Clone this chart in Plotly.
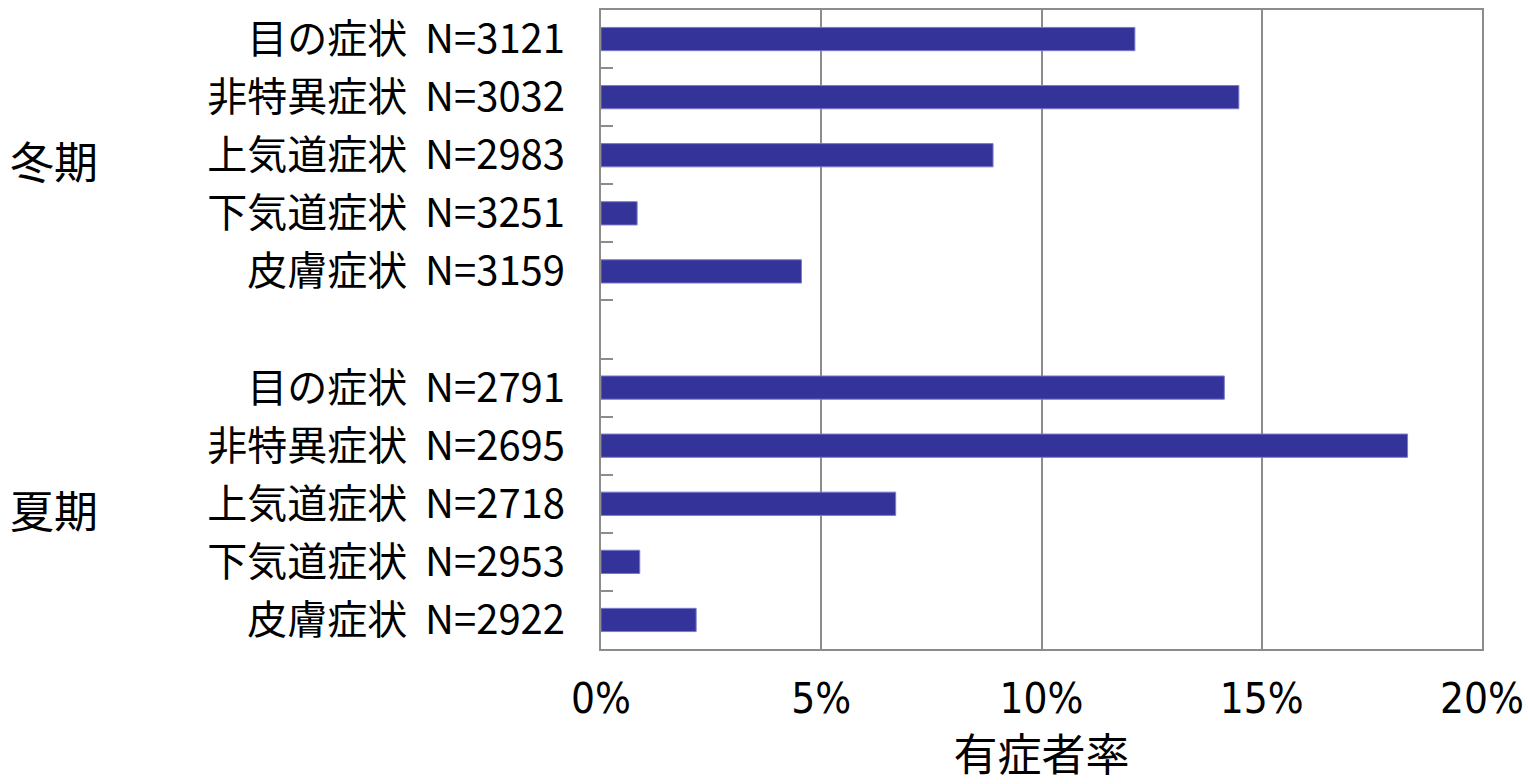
import plotly.graph_objects as go

symptoms = ["目の症状", "非特異症状", "上気道症状", "下気道症状", "皮膚症状"]
winter_n = [3121, 3032, 2983, 3251, 3159]
winter_rate = [12.12, 14.48, 8.90, 0.82, 4.55]
summer_n = [2791, 2695, 2718, 2953, 2922]
summer_rate = [14.15, 18.31, 6.69, 0.88, 2.16]
season_labels = ["冬期", "夏期"]
x_ticks = [0, 5, 10, 15, 20]
x_ticktext = ["0%", "5%", "10%", "15%", "20%"]
x_title = "有症者率"

SP = "\u00a0\u00a0"
winter_labels = [f"{s}{SP}N={n}" for s, n in zip(symptoms, winter_n)]
summer_labels = [f"{s}{SP}N={n}" for s, n in zip(symptoms, summer_n)]
blank = "\u00a0"
cats = winter_labels + [blank] + summer_labels
vals = winter_rate + [None] + summer_rate

CJK = "Noto Sans CJK JP, sans-serif"
NARROW = "DejaVu Sans Condensed, Noto Sans CJK JP, sans-serif"
GRID = "#8c8c8c"

fig = go.Figure(go.Bar(
    x=vals, y=cats, orientation="h",
    marker=dict(color="#333399", line=dict(color="#7a7acc", width=1)),
    hoverinfo="x+y",
))

fig.update_layout(
    width=1528, height=784,
    margin=dict(l=601, r=46, t=10, b=135),
    paper_bgcolor="white", plot_bgcolor="white",
    bargap=0.6, showlegend=False,
    font=dict(family=CJK, color="black"),
    xaxis=dict(
        range=[0, 20], tickmode="array", tickvals=x_ticks, ticktext=x_ticktext,
        showgrid=True, gridcolor=GRID, gridwidth=2,
        showline=True, linecolor=GRID, linewidth=2, mirror=True,
        zeroline=False, ticks="", automargin=False,
        tickfont=dict(size=42, family=NARROW, color="black"),
        ticklabelstandoff=12,
        title=dict(text=x_title, font=dict(size=44, family=CJK, color="black"), standoff=13),
    ),
    yaxis=dict(
        categoryorder="array", categoryarray=cats, autorange="reversed",
        tickson="boundaries", ticks="inside", ticklen=12, tickwidth=2, tickcolor=GRID,
        showline=True, linecolor=GRID, linewidth=2, mirror=True,
        showgrid=False, zeroline=False, automargin=False,
        tickfont=dict(size=40, family=CJK, color="black"),
        ticklabelstandoff=26,
    ),
)

for lab, anchor in zip(season_labels, [winter_labels[2], summer_labels[2]]):
    fig.add_annotation(
        text=lab, xref="paper", x=(8 - 601) / 881, xanchor="left",
        yref="y", y=anchor, yanchor="middle", yshift=-5, showarrow=False,
        font=dict(size=44, family=CJK, color="black"),
    )

fig.write_html("out.html")
